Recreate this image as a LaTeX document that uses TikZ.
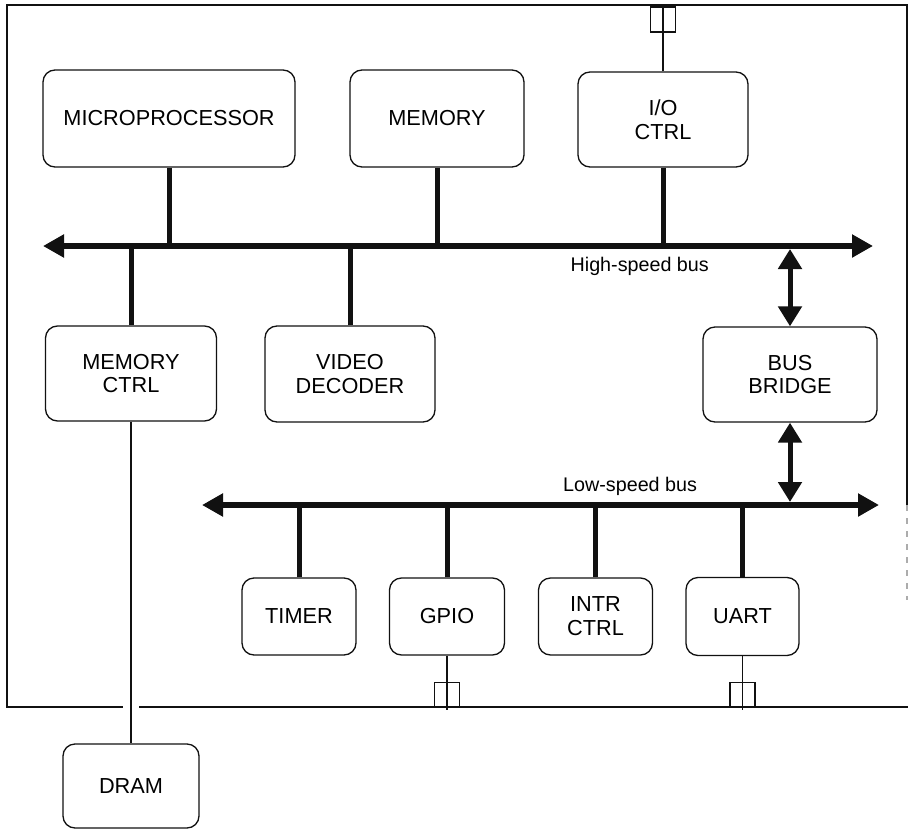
\documentclass[tikz,border=0pt]{standalone}
\usepackage{fontspec}
\setmainfont{Liberation Sans}
\usetikzlibrary{arrows.meta,positioning}
\definecolor{ink}{HTML}{111111}
\tikzset{
  block/.style={draw=ink,line width=1.3bp,rounded corners=12bp,inner sep=0pt,
                align=center,font=\fontsize{21.8}{24}\selectfont},
  buslabel/.style={inner sep=0pt,font=\fontsize{19.8}{22}\selectfont},
  bus/.style={draw=ink,line width=6bp,
              {Triangle[length=21bp,width=22bp]}-{Triangle[length=21bp,width=22bp]}},
  stub/.style={draw=ink,line width=5bp},
  bridgearrow/.style={draw=ink,line width=5bp,
              {Triangle[length=20bp,width=23bp]}-{Triangle[length=20bp,width=23bp]}},
  wire/.style={draw=ink,line width=1.2bp},
  padbox/.style={draw=ink,line width=1.2bp,minimum size=25bp,inner sep=0pt},
  chip/.style={draw=ink,line width=1.6bp}
}
\begin{document}
\begin{tikzpicture}[x=1bp,y=-1bp]
      \useasboundingbox (0,0) rectangle (908,829);
      % chip outline
      \coordinate (chipNW) at (7,5);
      \coordinate (chipSW) at (7,707);
      \draw[chip] (907,505) -- (907,5) -- (chipNW) -- (chipSW) -- (123,707);
      \draw[chip] (139,707) -- (908,707);
      \draw[ink!35,line width=1.2bp,dash pattern=on 6bp off 7bp] (907,505) -- (907,600);

      % top row
      \node[block,minimum width=252bp,minimum height=97bp] (cpu) at (169,118.5) {MICROPROCESSOR};
      \node[block,minimum width=174bp,minimum height=97bp] (mem) at (437,118.5) {MEMORY};
      \node[block,minimum width=170bp,minimum height=95bp] (io) at (663,119.5) {I/O\\CTRL};
      \node[padbox] (iopad) at (663,19.5) {};

      % high-speed bus
      \coordinate (hbW) at (43,246);
      \coordinate (hbE) at (873,246);
      \draw[bus] (hbW) -- (hbE);
      \node[buslabel,anchor=east] (hlabel) at (709,266) {High-speed bus};

      % middle row
      \node[block,minimum width=171bp,minimum height=95bp] (mctrl) at (131,373.5) {MEMORY\\CTRL};
      \node[block,minimum width=170bp,minimum height=96bp] (video) at (350,374) {VIDEO\\DECODER};
      \node[block,minimum width=174bp,minimum height=95bp] (bridge) at (790,374.5) {BUS\\BRIDGE};

      % low-speed bus
      \coordinate (lbW) at (202,505);
      \coordinate (lbE) at (879,505);
      \draw[bus] (lbW) -- (lbE);
      \node[buslabel,anchor=west] (llabel) at (563,486) {Low-speed bus};

      % bottom row
      \node[block,minimum width=114bp,minimum height=77bp] (timer) at (299,616.5) {TIMER};
      \node[block,minimum width=115bp,minimum height=77bp] (gpio) at (447,616.5) {GPIO};
      \node[block,minimum width=114bp,minimum height=77bp] (intr) at (595.5,616.5) {INTR\\CTRL};
      \node[block,minimum width=113bp,minimum height=78bp] (uart) at (742.5,616.5) {UART};
      \node[padbox] (gpiopad) at (447,695) {};
      \node[padbox] (uartpad) at (742.5,695) {};

      % off-chip memory
      \node[block,minimum width=136bp,minimum height=84bp] (dram) at (131,786) {DRAM};

      % stubs onto the buses
      \draw[stub] (cpu.south) -- (cpu.south |- hbW);
      \draw[stub] (mem.south) -- (mem.south |- hbW);
      \draw[stub] (io.south) -- (io.south |- hbW);
      \draw[stub] (mctrl.north) -- (mctrl.north |- hbW);
      \draw[stub] (video.north) -- (video.north |- hbW);
      \draw[stub] (timer.north) -- (timer.north |- lbW);
      \draw[stub] (gpio.north) -- (gpio.north |- lbW);
      \draw[stub] (intr.north) -- (intr.north |- lbW);
      \draw[stub] (uart.north) -- (uart.north |- lbW);

      % bridge
      \draw[bridgearrow] ([yshift=-3bp]bridge.north |- hbW) -- (bridge.north);
      \draw[bridgearrow] (bridge.south) -- ([yshift=3bp]bridge.south |- lbW);

      % pins and off-chip wires
      \draw[wire] (io.north) -- (io.north |- chipNW);
      \draw[wire] (gpio.south) -- ([yshift=-3bp]gpio.south |- chipSW);
      \draw[wire] (uart.south) -- ([yshift=-3bp]uart.south |- chipSW);
      \draw[wire] (mctrl.south) -- (dram.north);
\end{tikzpicture}
\end{document}
